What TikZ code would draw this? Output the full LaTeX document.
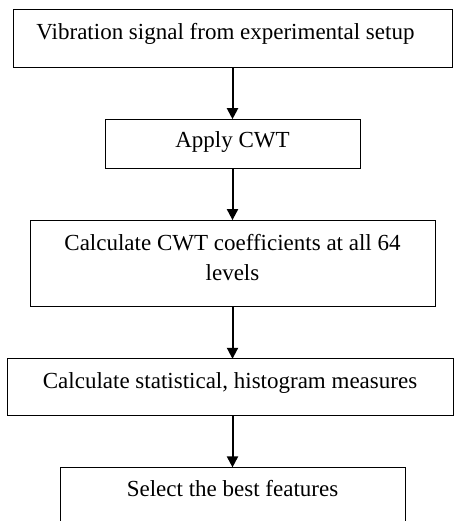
\documentclass[tikz,border=0pt]{standalone}
\usepackage{fontspec}
\setmainfont{Liberation Serif}
\usetikzlibrary{arrows.meta, positioning}
\tikzset{
  flowbox/.style={rectangle, draw=black, line width=1pt, outer sep=0pt, inner xsep=0pt, inner ysep=0pt, font=\fontsize{23}{30}\selectfont, align=center},
  arrow/.style={-{Triangle[width=11pt,length=11pt]}, line width=2pt, black}
}
\begin{document}
\begin{tikzpicture}
  \useasboundingbox (0,0) rectangle (453pt,-521pt);

  \node[flowbox, minimum width=439pt, text height=30pt, text depth=27.7pt, anchor=north] (signal) at (232.5pt,-10pt) {Vibration signal from experimental setup\hspace*{14pt}};
  \node[flowbox, minimum width=255pt, text height=28.7pt, text depth=20.7pt, below=51.5pt of signal] (cwt) {Apply CWT};
  \node[flowbox, minimum width=405pt, text height=60pt, text depth=26.7pt, below=51.5pt of cwt] (coeff) {Calculate CWT coefficients at all 64\\levels};
  \node[flowbox, minimum width=446pt, text height=29.3pt, text depth=27.3pt, below=52pt of coeff, xshift=-2.5pt] (stats) {Calculate statistical, histogram measures};
  \node[flowbox, minimum width=345pt, text height=28.7pt, text depth=32pt, below=52pt of stats, xshift=2.5pt] (select) {Select the best features};

  \draw[arrow] (signal) -- (cwt);
  \draw[arrow] (cwt) -- (coeff);
  \draw[arrow] (coeff.south) -- (coeff.south |- stats.north);
  \draw[arrow] (stats.south -| select) -- (select);
\end{tikzpicture}
\end{document}
